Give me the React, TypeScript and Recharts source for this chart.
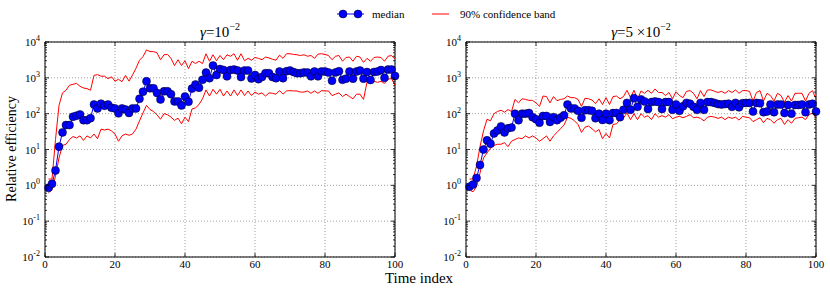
import React from "react"
import { LineChart, Line, XAxis, YAxis, CartesianGrid, ReferenceLine } from "recharts"

const FONT = "'Liberation Serif', 'Times New Roman', serif"

// gamma = 1e-2
const medianA = [
  0.85, 1.1, 2.6, 12, 30, 48, 48, 82, 88, 95,
  66, 66, 75, 180, 140, 190, 165, 180, 147, 140,
  102, 140, 130, 105, 140, 140, 260, 410, 800, 510,
  510, 380, 250, 420, 420, 350, 220, 220, 170, 300,
  215, 500, 650, 530, 880, 1400, 980, 2200, 1200, 1760,
  1650, 1100, 1650, 1700, 1600, 1050, 1600, 1600, 960, 1200,
  920, 1060, 1350, 1350, 1050, 980, 1500, 980, 1530, 1600,
  1450, 1350, 1350, 1420, 1400, 1100, 1500, 1100, 1500, 1500,
  1400, 830, 1420, 1530, 880, 950, 1500, 950, 1500, 1600,
  950, 1450, 870, 1450, 1500, 1650, 1000, 1700, 1700, 1130,
]
const upperA = [
  1.5, 1.5, 19, 170, 380, 450, 620, 660, 700, 580,
  520, 500, 450, 1170, 1230, 1110, 1110, 950, 1070, 810,
  910, 780, 1170, 810, 1200, 1850, 3100, 3900, 6000, 5400,
  5400, 5000, 3200, 4400, 4500, 3500, 2200, 3200, 2200, 3000,
  1800, 2900, 2500, 2900, 2500, 4700, 2900, 4400, 3000, 4200,
  3200, 4400, 4000, 4700, 3100, 4700, 3000, 3500, 3100, 3700,
  3500, 3200, 3800, 3600, 3300, 3100, 4300, 3500, 4700, 4700,
  4500, 4400, 4200, 4400, 4000, 4200, 3500, 4600, 4700, 4500,
  4200, 3200, 4000, 4200, 2900, 3700, 3800, 2900, 4000, 3800,
  2700, 3500, 2900, 3700, 3800, 3700, 2900, 4000, 4200, 3300,
]
const lowerA = [
  0.62, 0.75, 1.8, 5.8, 13, 14, 19, 23, 21, 24,
  18, 24, 21, 27, 20, 37, 35, 37, 33, 27,
  17, 24, 27, 25, 27, 37, 63, 105, 170, 130,
  115, 93, 70, 100, 93, 80, 65, 75, 52, 80,
  60, 135, 145, 180, 260, 460, 310, 480, 350, 480,
  310, 430, 310, 460, 320, 460, 320, 430, 320, 400,
  350, 380, 310, 380, 370, 350, 440, 350, 430, 440,
  430, 430, 400, 400, 430, 370, 430, 370, 440, 430,
  430, 320, 350, 380, 300, 350, 300, 260, 350, 350,
  250, 750, 750, 800, 750, 800, 700, 920, 950, 620,
]

// gamma = 5e-2
const medianB = [
  0.92, 1.05, 1.6, 3.7, 10, 18, 14.5, 28, 34, 44,
  30, 39, 41, 100, 66, 100, 100, 104, 80, 70,
  56, 86, 86, 59, 80, 66, 77, 90, 180, 140,
  140, 120, 77, 125, 125, 120, 75, 100, 67, 100,
  66, 104, 104, 80, 128, 200, 128, 270, 155, 250,
  220, 135, 210, 220, 210, 135, 210, 210, 128, 180,
  120, 160, 200, 190, 155, 128, 200, 128, 210, 210,
  200, 185, 180, 185, 190, 155, 200, 150, 195, 200,
  200, 115, 200, 195, 110, 115, 180, 110, 180, 180,
  104, 175, 100, 175, 175, 180, 110, 180, 190, 115,
]
const upperB = [
  1.5, 1.5, 3.4, 12, 33, 70, 63, 100, 115, 125,
  110, 130, 115, 250, 200, 260, 250, 235, 235, 200,
  160, 310, 300, 200, 300, 230, 250, 260, 310, 280,
  280, 250, 160, 270, 260, 240, 190, 260, 180, 280,
  180, 300, 310, 260, 300, 450, 280, 450, 250, 430,
  370, 450, 370, 490, 390, 390, 320, 390, 260, 410,
  320, 280, 420, 440, 370, 260, 440, 300, 460, 460,
  420, 390, 420, 370, 440, 390, 460, 370, 440, 440,
  420, 225, 390, 440, 225, 370, 320, 225, 370, 320,
  210, 320, 225, 370, 370, 370, 225, 370, 440, 260,
]
const lowerB = [
  0.74, 0.66, 0.92, 2.2, 5.8, 8, 11, 13, 14, 14,
  15.5, 12, 17, 19, 21, 20, 24, 21, 24, 21,
  17, 20, 24, 17, 24, 30, 38, 48, 79, 74,
  63, 50, 30, 42, 45, 38, 31, 36, 20, 28,
  21, 50, 52, 68, 77, 104, 68, 100, 68, 100,
  80, 88, 68, 100, 80, 88, 80, 94, 72, 80,
  84, 77, 84, 94, 77, 80, 74, 63, 80, 84,
  80, 74, 80, 68, 80, 74, 80, 66, 84, 80,
  77, 60, 68, 77, 56, 74, 68, 54, 68, 74,
  50, 68, 54, 74, 77, 80, 68, 94, 104, 77,
]

const xTicks = [0, 20, 40, 60, 80, 100]
const yTicks = [0.01, 0.1, 1, 10, 100, 1000, 10000]
const yMinorTicks: number[] = []
yTicks.slice(0, -1).forEach((d) => {
  for (let m = 2; m <= 9; m++) yMinorTicks.push(d * m)
})
const yAllTicks = [...yTicks, ...yMinorTicks]

const PLOT_W = 350
const PLOT_H = 215
const Y_MARGIN = 5
const X_MARGIN = 3

const isDecade = (v: number) => Math.abs(Math.log10(v) - Math.round(Math.log10(v))) < 1e-6

// y tick: label for decades, inward tick marks on both frame sides
const YTick = (props: any) => {
  const { x, y, payload } = props
  const v = payload.value
  const major = isDecade(v)
  const len = major ? 4 : 2
  const l = x + Y_MARGIN
  const r = l + PLOT_W
  return (
    <g>
      <line x1={l} y1={y} x2={l + len} y2={y} stroke="#000" strokeWidth={0.8} />
      <line x1={r} y1={y} x2={r - len} y2={y} stroke="#000" strokeWidth={0.8} />
      {major && (
        <text x={x} y={y + 4} textAnchor="end" fontFamily={FONT} fontSize={11} fill="#000">
          10<tspan dy={-5} fontSize={8}>{Math.round(Math.log10(v))}</tspan>
        </text>
      )}
    </g>
  )
}

const XTick = (props: any) => {
  const { x, y, payload } = props
  const b = y - X_MARGIN
  const t = b - PLOT_H
  return (
    <g>
      <line x1={x} y1={b} x2={x} y2={b - 4} stroke="#000" strokeWidth={0.8} />
      <line x1={x} y1={t} x2={x} y2={t + 4} stroke="#000" strokeWidth={0.8} />
      <text x={x} y={y} dy={8} textAnchor="middle" fontFamily={FONT} fontSize={11} fill="#000">
        {payload.value}
      </text>
    </g>
  )
}

function Panel({ median, upper, lower, left, width }: { median: number[]; upper: number[]; lower: number[]; left: number; width: number }) {
  const rows = median.map((m, i) => ({ t: i + 1, median: m, upper: upper[i], lower: lower[i] }))
  return (
    <div style={{ position: "absolute", left, top: 0 }}>
      <LineChart width={width} height={292} data={rows} margin={{ top: 42, right: width - 45 - PLOT_W, left: 0, bottom: 5 }}>
        <CartesianGrid stroke="#777" strokeWidth={0.7} strokeDasharray="1 2" horizontalValues={yTicks} verticalValues={xTicks} />
        <XAxis
          dataKey="t"
          type="number"
          domain={[0, 100]}
          ticks={xTicks}
          interval={0}
          height={30}
          tickLine={false}
          tickSize={0}
          tickMargin={X_MARGIN}
          axisLine={{ stroke: "#000", strokeWidth: 1 }}
          tick={XTick}
        />
        <YAxis
          scale="log"
          type="number"
          domain={[0.01, 10000]}
          allowDataOverflow
          ticks={yAllTicks}
          interval={0}
          width={45}
          tickLine={false}
          tickSize={0}
          tickMargin={Y_MARGIN}
          axisLine={{ stroke: "#000", strokeWidth: 1 }}
          tick={YTick}
        />
        <ReferenceLine x={100} stroke="#000" strokeWidth={1} />
        <ReferenceLine y={10000} stroke="#000" strokeWidth={1} />
        <Line
          dataKey="median"
          stroke="#0000ff"
          strokeWidth={1}
          dot={{ r: 4, fill: "#0000ff", stroke: "#000", strokeWidth: 0.5 }}
          activeDot={false}
          isAnimationActive={false}
        />
        <Line dataKey="upper" stroke="#ff0000" strokeWidth={1} dot={false} activeDot={false} isAnimationActive={false} />
        <Line dataKey="lower" stroke="#ff0000" strokeWidth={1} dot={false} activeDot={false} isAnimationActive={false} />
      </LineChart>
    </div>
  )
}

export default function App() {
  return (
    <div style={{ position: "absolute", left: 0, top: 0, width: 830, height: 292, background: "#fff", overflow: "hidden" }}>
      <Panel median={medianA} upper={upperA} lower={lowerA} left={0} width={415} />
      <Panel median={medianB} upper={upperB} lower={lowerB} left={421} width={409} />

      <svg width={830} height={292} style={{ position: "absolute", left: 0, top: 0, pointerEvents: "none" }}>
        <line x1={337} y1={14} x2={364} y2={14} stroke="#0000ff" strokeWidth={1} />
        <circle cx={343} cy={14} r={4} fill="#0000ff" stroke="#000" strokeWidth={0.5} />
        <circle cx={358} cy={14} r={4} fill="#0000ff" stroke="#000" strokeWidth={0.5} />
        <text x={372} y={18} fontFamily={FONT} fontSize={11}>median</text>
        <line x1={432} y1={14} x2={449} y2={14} stroke="#ff0000" strokeWidth={1} />
        <text x={460} y={18} fontFamily={FONT} fontSize={11}>90% confidence band</text>

        <text x={220} y={37} textAnchor="middle" fontFamily={FONT} fontSize={15}>
          <tspan fontStyle="italic">γ</tspan>=10<tspan dy={-7} fontSize={10}>−2</tspan>
        </text>
        <text x={641} y={37} textAnchor="middle" fontFamily={FONT} fontSize={15}>
          <tspan fontStyle="italic">γ</tspan>=5 ×10<tspan dy={-7} fontSize={10}>−2</tspan>
        </text>
        <text x={0} y={0} transform="translate(16,149) rotate(-90)" textAnchor="middle" fontFamily={FONT} fontSize={14}>
          Relative efficiency
        </text>
        <text x={419} y={283} textAnchor="middle" fontFamily={FONT} fontSize={15}>
          Time index
        </text>
      </svg>
    </div>
  )
}
